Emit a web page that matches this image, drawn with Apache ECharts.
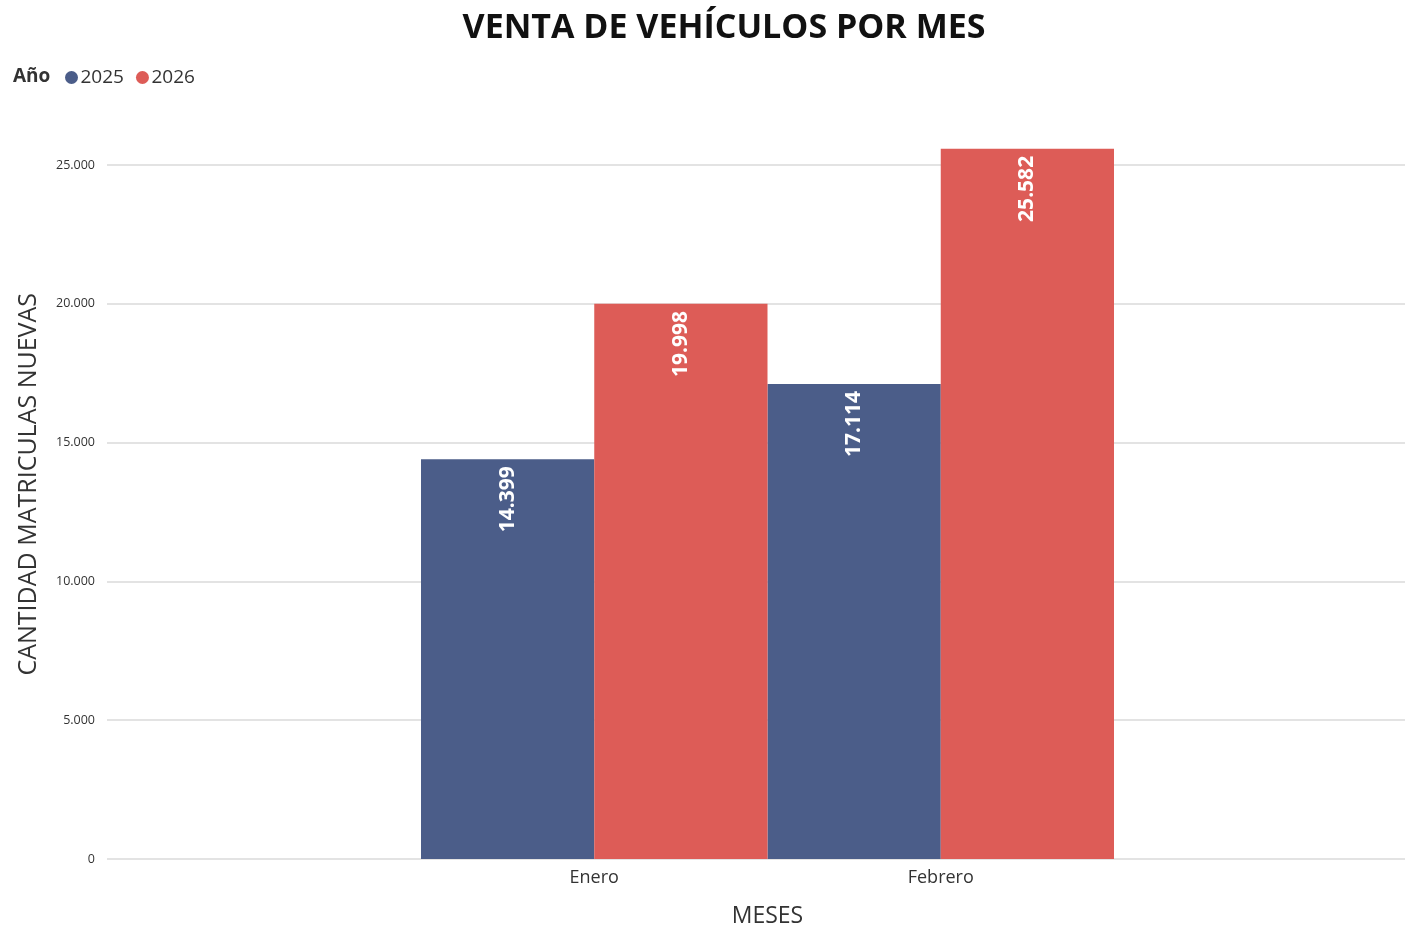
<!DOCTYPE html>
<html>
<head>
<meta charset="utf-8">
<script src="https://cdn.jsdelivr.net/npm/echarts@6/dist/echarts.min.js"></script>
<style>
  html, body { margin: 0; padding: 0; background: #fff; }
  #chart { width: 1405px; height: 926px; }
</style>
</head>
<body>
<div id="chart"></div>
<script>
  const meses = ["Enero", "Febrero"];
  const serieNames = ["2025", "2026"];
  const ventas2025 = [14399, 17114];
  const ventas2026 = [19998, 25582];
  const yTicks = [0, 5000, 10000, 15000, 20000, 25000];

  const colors = ["#4B5D89", "#DD5C57"];
  const font = "'Open Sans', 'Noto Sans', sans-serif";

  // formato con punto como separador de miles
  const fmt = v => String(v).replace(/\B(?=(\d{3})+(?!\d))/g, ".");

  const chart = echarts.init(document.getElementById("chart"));

  const labelStyle = {
    show: true,
    position: "insideTop",
    rotate: 90,
    align: "right",
    verticalAlign: "middle",
    distance: 7,
    color: "#fff",
    fontFamily: font,
    fontWeight: "bold",
    fontSize: 21,
    formatter: p => fmt(p.value),
  };

  const option = {
    animation: false,
    title: {
      text: "VENTA DE VEHÍCULOS POR MES",
      left: 719,
      textAlign: "center",
      top: 6,
      textStyle: { fontFamily: font, fontWeight: "bold", fontSize: 34, color: "#111" },
    },
    legend: {
      left: 60,
      top: 63,
      icon: "circle",
      itemWidth: 14,
      itemHeight: 13,
      itemGap: 12,
      textStyle: { fontFamily: font, fontSize: 19, color: "#333", padding: [0, 0, 0, -3] },
      data: serieNames,
    },
    graphic: [
      {
        type: "text",
        left: 13,
        top: 67,
        style: { text: "Año", fontFamily: font, fontWeight: "bold", fontSize: 19, fill: "#333" },
      },
    ],
    grid: [
      { left: 107, right: 0, top: 109.5, bottom: 67, outerBoundsMode: "none" },
      { left: 421, right: 291, top: 109.5, bottom: 67, outerBoundsMode: "none" },
    ],
    xAxis: [
      {
        gridIndex: 0,
        type: "category",
        data: [""],
        show: false,
      },
      {
        gridIndex: 1,
        type: "category",
        data: meses,
        axisLine: { show: false },
        axisTick: { show: false },
        axisLabel: { fontFamily: font, fontSize: 18, color: "#333", margin: 10 },
        name: "MESES",
        nameLocation: "middle",
        nameGap: 46,
        nameTextStyle: { fontFamily: font, fontSize: 23, color: "#333" },
      },
    ],
    yAxis: [
      {
        gridIndex: 0,
        type: "value",
        min: 0,
        max: 27000,
        interval: 5000,
        axisLine: { show: false },
        axisTick: { show: false },
        axisLabel: {
          fontFamily: font,
          fontSize: 12.5,
          color: "#333",
          margin: 12,
          showMaxLabel: false,
          formatter: v => (yTicks.includes(v) ? fmt(v) : ""),
        },
        splitLine: { show: true, showMaxLine: false, lineStyle: { color: "#e3e3e3", width: 2 } },
        name: "CANTIDAD MATRICULAS NUEVAS",
        nameLocation: "middle",
        nameGap: 66,
        nameTextStyle: { fontFamily: font, fontSize: 25, color: "#333" },
      },
      {
        gridIndex: 1,
        type: "value",
        min: 0,
        max: 27000,
        show: false,
        splitLine: { show: false },
      },
    ],
    series: [
      {
        name: serieNames[0],
        type: "bar",
        xAxisIndex: 1,
        yAxisIndex: 1,
        data: ventas2025,
        barGap: "0%",
        barCategoryGap: "0%",
        itemStyle: { color: colors[0] },
        label: labelStyle,
      },
      {
        name: serieNames[1],
        type: "bar",
        xAxisIndex: 1,
        yAxisIndex: 1,
        data: ventas2026,
        barGap: "0%",
        barCategoryGap: "0%",
        itemStyle: { color: colors[1] },
        label: labelStyle,
      },
    ],
  };

  chart.setOption(option);
</script>
</body>
</html>
